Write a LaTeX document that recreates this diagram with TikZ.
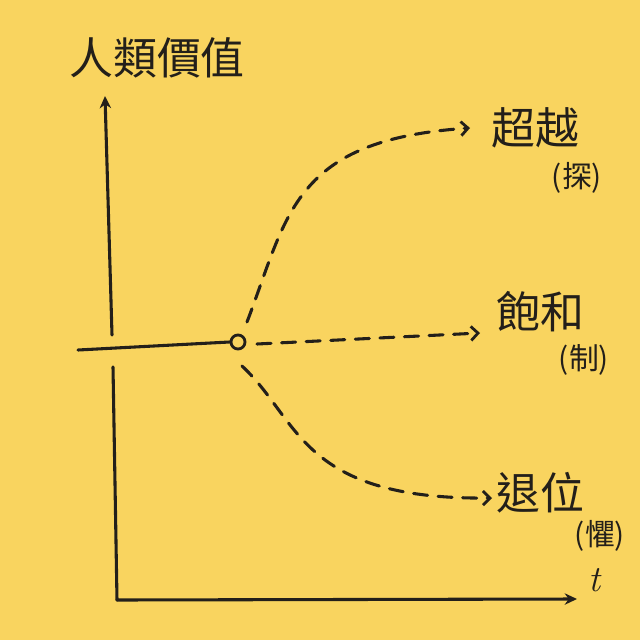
\documentclass[tikz,border=0pt]{standalone}
\usepackage{fontspec}
\newfontfamily\cjk{Noto Sans CJK TC}
\usetikzlibrary{arrows.meta}
\definecolor{bg}{HTML}{F9D45F}
\definecolor{ink}{HTML}{231F1A}
\begin{document}
\begin{tikzpicture}[x=0.04cm,y=-0.04cm,
  ink line/.style={draw=ink,line width=3.5pt,line cap=round},
  dashline/.style={ink line,dash pattern=on 16pt off 12pt},
  openhead/.style={-{Straight Barb[length=8pt,width=16pt,line width=3.2pt]}},
  bigtxt/.style={text=ink,font=\cjk\fontsize{50}{50}\selectfont,inner sep=0pt},
  smalltxt/.style={text=ink,font=\cjk\fontsize{34}{34}\selectfont,inner sep=0pt}]
\fill[bg] (0,0) rectangle (640,640);
\useasboundingbox (0,0) rectangle (640,640);
% axes
\coordinate (ytop) at (105,96);
\coordinate (ygapA) at (112,335);
\coordinate (ygapB) at (113,367);
\coordinate (origin) at (117,600);
\coordinate (xend) at (577,599);
\draw[ink line,-{Stealth[length=14pt,width=13pt]}] (ygapA) -- (ytop);
\draw[ink line] (ygapB) -- (origin);
\draw[ink line,-{Stealth[length=14pt,width=13pt]}] (origin) -- (xend);
\node[text=ink,font=\itshape\fontsize{42}{42}\selectfont,inner sep=0pt] (tlab) at (594,580) {t};
\node[bigtxt] (ylab) at (157,58) {人類價值};
% start line and circle
\coordinate (lstart) at (78,350);
\node[draw=ink,line width=3.2pt,circle,minimum size=16pt,inner sep=0pt] (c) at (238,342) {};
\draw[ink line] (lstart) -- (c.west);
% branches
\coordinate (u0) at (247,322);
\coordinate (u1) at (470,128);
\coordinate (m0) at (257,344);
\coordinate (m1) at (480,333);
\coordinate (d0) at (242,366);
\coordinate (d1) at (492,498);
\draw[dashline,openhead] (u0) .. controls (288,215) and (292,140) .. (u1);
\draw[dashline,openhead] (m0) -- (m1);
\draw[dashline,openhead] (d0) .. controls (300,420) and (300,500) .. (d1);
% labels
\node[bigtxt] (l1) at (535,128) {超越};
\node[smalltxt] (l1b) at (577,178) {(探)};
\node[bigtxt] (l2) at (540,312) {飽和};
\node[smalltxt] (l2b) at (584,360) {(制)};
\node[bigtxt] (l3) at (540,493) {退位};
\node[smalltxt] (l3b) at (600,536) {(懼)};
\end{tikzpicture}
\end{document}
